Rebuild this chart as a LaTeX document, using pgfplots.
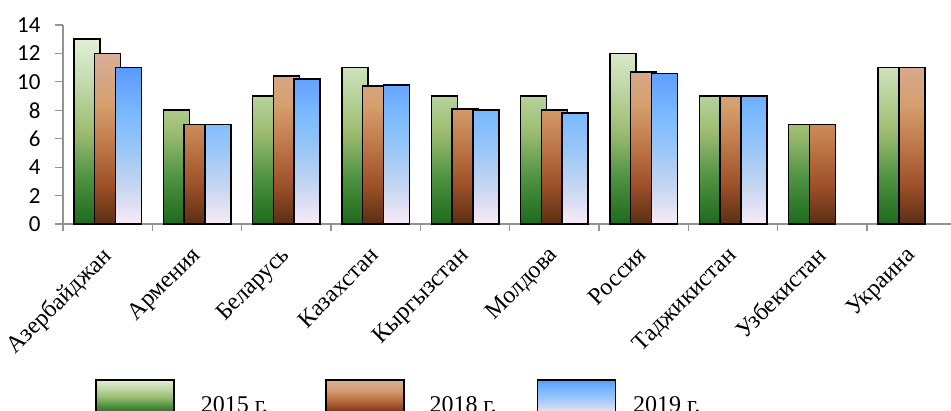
\documentclass[border=0pt]{standalone}
\usepackage{fontspec}
\setmainfont{Liberation Serif}
\newfontfamily\calibri{Carlito}
\usepackage{pgfplots}
\pgfplotsset{compat=1.18}
\usetikzlibrary{calc}

% bar fills: dark at the foot, pale at the top (blue runs the other way)
\definecolor{gA}{HTML}{1E6A1C}
\definecolor{gB}{HTML}{4C9040}
\definecolor{gC}{HTML}{9CBC70}
\definecolor{gD}{HTML}{BFD7A6}
\definecolor{gE}{HTML}{E2EFD8}
\definecolor{bA}{HTML}{5A2E13}
\definecolor{bB}{HTML}{A0522A}
\definecolor{bC}{HTML}{C27E4E}
\definecolor{bD}{HTML}{D59F6E}
\definecolor{bE}{HTML}{D8AE98}
\definecolor{uA}{HTML}{F8EAF7}
\definecolor{uB}{HTML}{C6D6F0}
\definecolor{uC}{HTML}{96C5F8}
\definecolor{uD}{HTML}{7BB9FF}
\definecolor{uE}{HTML}{5A9AFF}
\pgfdeclareverticalshading{greenbar}{100bp}{color(0bp)=(gA); color(25bp)=(gA);
  color(37bp)=(gB); color(50bp)=(gC); color(62bp)=(gD); color(75bp)=(gE); color(100bp)=(gE)}
\pgfdeclareverticalshading{brownbar}{100bp}{color(0bp)=(bA); color(25bp)=(bA);
  color(37bp)=(bB); color(50bp)=(bC); color(60bp)=(bD); color(75bp)=(bE); color(100bp)=(bE)}
\pgfdeclareverticalshading{bluebar}{100bp}{color(0bp)=(uA); color(25bp)=(uA);
  color(37bp)=(uB); color(50bp)=(uC); color(60bp)=(uD); color(75bp)=(uE); color(100bp)=(uE)}

\newcommand{\lbl}[1]{\mbox{\rmfamily\fontsize{24}{24}\selectfont #1}}

\begin{document}
\begin{tikzpicture}
\begin{axis}[
    name=ax,
    scale only axis,
    width=888pt, height=199pt,
    xmin=-0.5, xmax=9.44,
    ymin=0, ymax=14,
    ytick={0,2,...,14},
    axis lines=left,
    axis line style={-, draw=gray!85, line width=1.2pt},
    tick align=outside,
    major tick length=8pt,
    minor tick length=7pt,
    every tick/.style={draw=gray!85, line width=1.2pt},
    xtick={0,...,9},
    major x tick style={draw=none},
    minor xtick={-0.5,0.5,...,8.5},
    xticklabels={\lbl{Азербайджан}, \lbl{Армения}, \lbl{Беларусь},
      \lbl{Казахстан}, \lbl{Кыргызстан}, \lbl{Молдова}, \lbl{Россия},
      \lbl{Таджикистан}, \lbl{Узбекистан}, \lbl{Украина}},
    xticklabel style={xshift=-7pt, yshift=-13pt, rotate=45,
      anchor=north east, inner sep=0pt},
    yticklabel style={font=\calibri\fontsize{23}{23}\selectfont, xshift=-11pt},
    /pgf/number format/assume math mode=true,
    ybar=-5.3pt,
    bar width=26pt,
    legend columns=3,
    legend style={draw=none, fill=none, inner sep=0pt,
      at={(0.036,-0.779)}, anchor=north west,
      font=\fontsize{24}{24}\selectfont,
      nodes={inner sep=0pt},
      /tikz/column 1/.append style={column sep=26pt},
      /tikz/column 2/.append style={column sep=57pt},
      /tikz/column 3/.append style={column sep=25pt},
      /tikz/column 4/.append style={column sep=40pt},
      /tikz/column 5/.append style={column sep=17pt}},
    legend image code/.code={\draw[#1] (0pt,-9pt) rectangle (78pt,25pt);},
    every axis plot/.append style={draw=black, line width=1.6pt},
  ]
  \addplot[shading=greenbar] coordinates {(0,13) (1,8) (2,9) (3,11) (4,9)
    (5,9) (6,12) (7,9) (8,7) (9,11)};
  \addplot[shading=brownbar] coordinates {(0,12) (1,7) (2,10.4) (3,9.7) (4,8.1)
    (5,8) (6,10.7) (7,9) (8,7) (9,11)};
  \addplot[shading=bluebar] coordinates {(0,11) (1,7) (2,10.2) (3,9.8) (4,8)
    (5,7.8) (6,10.6) (7,9)};
  \legend{2015 г., 2018 г., 2019 г.}
\end{axis}
\pgfresetboundingbox
\path ($(ax.south west)+(-63pt,-186pt)$) rectangle ($(ax.north east)+(0pt,25pt)$);
\end{tikzpicture}
\end{document}
